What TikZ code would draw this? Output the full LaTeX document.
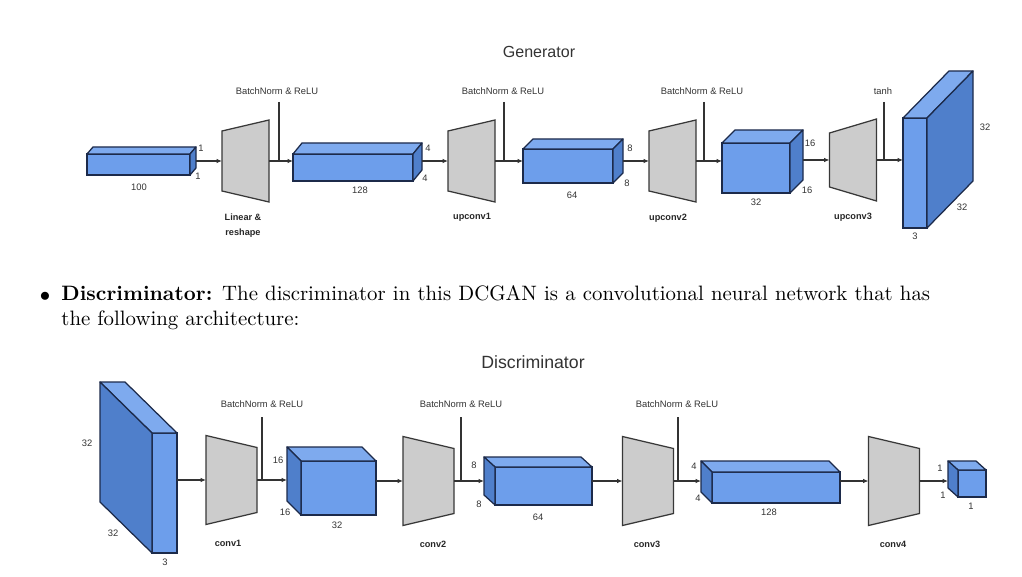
\documentclass[tikz,border=0pt]{standalone}
\usepackage{fontspec}
\newfontfamily\arial{Liberation Sans}
\usetikzlibrary{positioning, calc, arrows.meta}

\newdimen\px \px=0.48pt

\definecolor{facefront}{HTML}{6D9EEB}
\definecolor{facetop}{HTML}{7EAAEE}
\definecolor{faceside}{HTML}{4F7FCB}
\definecolor{edgeblue}{HTML}{1C2A4A}
\definecolor{layergray}{HTML}{CCCCCC}
\definecolor{layeredge}{HTML}{383838}

% depth faces of a block, drawn from its front node
\newcommand{\cubeR}[3]{%
  \draw[faceline, fill=facetop] (#1.north west) -- ++(#2,#3) -- ($(#1.north east)+(#2,#3)$) -- (#1.north east) -- cycle;
  \draw[faceline, fill=faceside] (#1.north east) -- ++(#2,#3) -- ($(#1.south east)+(#2,#3)$) -- (#1.south east) -- cycle;}
\newcommand{\cubeL}[3]{%
  \draw[faceline, fill=facetop] (#1.north east) -- ++(#2,#3) -- ($(#1.north west)+(#2,#3)$) -- (#1.north west) -- cycle;
  \draw[faceline, fill=faceside] (#1.north west) -- ++(#2,#3) -- ($(#1.south west)+(#2,#3)$) -- (#1.south west) -- cycle;}
% layer outlines (taller on the right / on the left)
\newcommand{\growR}[2]{%
  \draw[layerline] ($(#1.north west)+(0,#2)$) -- (#1.north east) -- (#1.south east) -- ($(#1.south west)+(0,-#2)$) -- cycle;}
\newcommand{\growL}[2]{%
  \draw[layerline] (#1.north west) -- ($(#1.north east)+(0,#2)$) -- ($(#1.south east)+(0,-#2)$) -- (#1.south west) -- cycle;}

\tikzset{
  face/.style={draw=edgeblue, fill=facefront, line width=0.6pt, inner sep=0pt, outer sep=0pt},
  faceline/.style={draw=edgeblue, line width=0.6pt, line join=round},
  layer/.style={inner sep=0pt, outer sep=0pt, minimum width=47\px, minimum height=82\px},
  dlayer/.style={inner sep=0pt, outer sep=0pt, minimum width=51\px, minimum height=89\px},
  layerline/.style={draw=layeredge, fill=layergray, line width=0.6pt},
  flow/.style={draw=black!80, line width=0.5pt, -{Latex[length=2.6pt,width=2.2pt]}},
  tap/.style={draw=black!80, line width=0.5pt},
  dimlabel/.style={font=\arial\fontsize{4.5}{5}\selectfont, inner sep=0pt, text=black!80},
  note/.style={font=\arial\fontsize{4.5}{5}\selectfont, inner sep=1pt, text=black!80},
  opname/.style={font=\arial\bfseries\fontsize{4.4}{7.2}\selectfont, align=center, inner sep=0pt, text=black!85},
  nettitle/.style={font=\arial\fontsize{#1}{#1}\selectfont, inner sep=0pt, text=black!80}
}

\begin{document}
\begin{tikzpicture}[x=0.48pt, y=-0.48pt]
\useasboundingbox (0,0) rectangle (1022,577);

% ---------------- Generator ----------------
\node[nettitle=7.7] (gtitle) at (539,52) {Generator};

\node[face, minimum width=103\px, minimum height=21\px] (g100) at (138.5,164.5) {};
\cubeR{g100}{6}{-7}
\node[layer] (lin) at (245.5,161) {};
\growR{lin}{11}
\node[face, minimum width=120\px, minimum height=27\px] (g128) at (353,167.5) {};
\cubeR{g128}{9}{-11}
\node[layer] (up1) at (471.5,161) {};
\growR{up1}{11}
\node[face, minimum width=90\px, minimum height=34\px] (g64) at (568,166) {};
\cubeR{g64}{10}{-10}
\node[layer] (up2) at (672.5,161) {};
\growR{up2}{11}
\node[face, minimum width=68\px, minimum height=50\px] (g32) at (756,168) {};
\cubeR{g32}{13}{-13}
\node[layer] (up3) at (853,160) {};
\growR{up3}{14}
\node[face, minimum width=24\px, minimum height=110\px] (gout) at (915,173) {};
\cubeR{gout}{46}{-47}

\draw[flow] ($(g100.east |- lin.west)+(6,0)$) -- (lin.west);
\draw[flow] (lin.east) -- (g128.west |- lin.east);
\draw[flow] ($(g128.east |- up1.west)+(9,0)$) -- (up1.west);
\draw[flow] (up1.east) -- (g64.west |- up1.east);
\draw[flow] ($(g64.east |- up2.west)+(10,0)$) -- (up2.west);
\draw[flow] (up2.east) -- (g32.west |- up2.east);
\draw[flow] ($(g32.east |- up3.west)+(13,0)$) -- (up3.west);
\draw[flow] (up3.east) -- (gout.west |- up3.east);

\node[note] (gbn1) at (277,91) {BatchNorm \& ReLU};
\node[note] (gbn2) at (503,91) {BatchNorm \& ReLU};
\node[note] (gbn3) at (702,91) {BatchNorm \& ReLU};
\node[note] (gtanh) at (883,91) {tanh};
\coordinate (gt1) at (279,102);
\coordinate (gt2) at (504,102);
\coordinate (gt3) at (704,102);
\coordinate (gt4) at (884,102);
\draw[tap] (gt1) -- (gt1 |- lin.east);
\draw[tap] (gt2) -- (gt2 |- up1.east);
\draw[tap] (gt3) -- (gt3 |- up2.east);
\draw[tap] (gt4) -- (gt4 |- up3.east);

\node[opname] (linname) at (243,226) {Linear \&\\reshape};
\node[opname] (up1name) at (472,217) {upconv1};
\node[opname] (up2name) at (668,218) {upconv2};
\node[opname] (up3name) at (853,217) {upconv3};

\node[dimlabel] (g100a) at (201,148) {1};
\node[dimlabel] (g100b) at (198,176) {1};
\node[dimlabel] (g100c) at (139,187) {100};
\node[dimlabel] (g128a) at (428,148) {4};
\node[dimlabel] (g128b) at (425,178) {4};
\node[dimlabel] (g128c) at (360,190) {128};
\node[dimlabel] (g64a) at (630,148) {8};
\node[dimlabel] (g64b) at (627,183) {8};
\node[dimlabel] (g64c) at (572,195) {64};
\node[dimlabel] (g32a) at (810,143) {16};
\node[dimlabel] (g32b) at (807,190) {16};
\node[dimlabel] (g32c) at (756,202) {32};
\node[dimlabel] (gouta) at (985,127) {32};
\node[dimlabel] (goutb) at (962,207) {32};
\node[dimlabel] (goutc) at (915,236) {3};

% ---------------- text ----------------
\node[inner sep=0pt] (dot) at (45,297) {$\bullet$};
\node[anchor=base west, inner sep=0pt] (line1) at (61,301)
  {\makebox[417pt][s]{\textbf{Discriminator:} The discriminator in this DCGAN is a convolutional neural network that has}};
\node[anchor=base west, inner sep=0pt] (line2) at (61,325) {the following architecture:};

% ---------------- Discriminator ----------------
\node[nettitle=8.5] (dtitle) at (533,362) {Discriminator};

\node[face, minimum width=25\px, minimum height=120\px] (din) at (164.5,493) {};
\cubeL{din}{-52}{-51}
\node[dlayer] (c1) at (231.5,480) {};
\growL{c1}{12}
\node[face, minimum width=75\px, minimum height=54\px] (d32) at (338.5,488) {};
\cubeL{d32}{-14}{-14}
\node[dlayer] (c2) at (428.5,481) {};
\growL{c2}{12}
\node[face, minimum width=97\px, minimum height=38\px] (d64) at (543.5,486) {};
\cubeL{d64}{-11}{-10}
\node[dlayer] (c3) at (648,481) {};
\growL{c3}{12}
\node[face, minimum width=128\px, minimum height=31\px] (d128) at (776,487.5) {};
\cubeL{d128}{-11}{-11}
\node[dlayer] (c4) at (894,481) {};
\growL{c4}{12}
\node[face, minimum width=28\px, minimum height=27\px] (d1) at (972,483.5) {};
\cubeL{d1}{-10}{-9}

\draw[flow] (din.east |- c1.west) -- (c1.west);
\draw[flow] (c1.east) -- ($(d32.west |- c1.east)+(-14,0)$);
\draw[flow] (d32.east |- c2.west) -- (c2.west);
\draw[flow] (c2.east) -- ($(d64.west |- c2.east)+(-11,0)$);
\draw[flow] (d64.east |- c3.west) -- (c3.west);
\draw[flow] (c3.east) -- ($(d128.west |- c3.east)+(-11,0)$);
\draw[flow] (d128.east |- c4.west) -- (c4.west);
\draw[flow] (c4.east) -- ($(d1.west |- c4.east)+(-10,0)$);

\node[note] (dbn1) at (262,404) {BatchNorm \& ReLU};
\node[note] (dbn2) at (461,404) {BatchNorm \& ReLU};
\node[note] (dbn3) at (677,404) {BatchNorm \& ReLU};
\coordinate (dt1) at (262,417);
\coordinate (dt2) at (461,417);
\coordinate (dt3) at (678,417);
\draw[tap] (dt1) -- (dt1 |- c1.east);
\draw[tap] (dt2) -- (dt2 |- c2.east);
\draw[tap] (dt3) -- (dt3 |- c3.east);

\node[opname] (c1name) at (228,543) {conv1};
\node[opname] (c2name) at (433,544) {conv2};
\node[opname] (c3name) at (647,544) {conv3};
\node[opname] (c4name) at (893,544) {conv4};

\node[dimlabel] (dina) at (87,443) {32};
\node[dimlabel] (dinb) at (113,533) {32};
\node[dimlabel] (dinc) at (165,562) {3};
\node[dimlabel] (d32a) at (278,460) {16};
\node[dimlabel] (d32b) at (285,512) {16};
\node[dimlabel] (d32c) at (337,525) {32};
\node[dimlabel] (d64a) at (474,465) {8};
\node[dimlabel] (d64b) at (479,504) {8};
\node[dimlabel] (d64c) at (538,517) {64};
\node[dimlabel] (d128a) at (694,466) {4};
\node[dimlabel] (d128b) at (698,498) {4};
\node[dimlabel] (d128c) at (769,512) {128};
\node[dimlabel] (d1a) at (940,468) {1};
\node[dimlabel] (d1b) at (943,495) {1};
\node[dimlabel] (d1c) at (971,506) {1};
\end{tikzpicture}
\end{document}
